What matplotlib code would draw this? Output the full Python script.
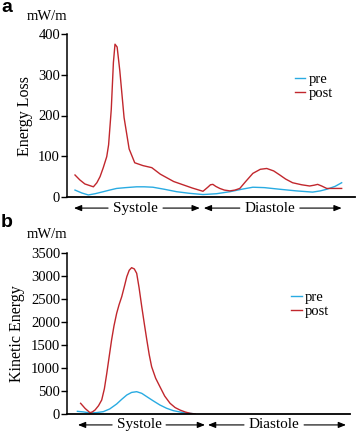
import matplotlib
matplotlib.use("Agg")
import matplotlib.pyplot as plt

plt.rcParams["font.family"] = ["Liberation Serif", "DejaVu Serif"]

RED = "#c1272d"
BLUE = "#29abe2"

# time in % of the cardiac cycle (systole ends near 48 %)
el_post_t = [0, 1.8, 3.7, 6.9, 8.2, 9.4, 10.6, 11.9, 12.6, 13.6, 14.4, 15.0, 15.8,
             16.8, 18.4, 20.3, 22.4, 25.5, 28.8, 32.0, 37.0, 44.0, 48.0, 49.8, 50.8,
             51.7, 52.8, 54.3, 56.0, 58.1, 60.0, 61.8, 64.0, 66.7, 69.5, 71.9, 74.5,
             76.8, 79.0, 81.6, 85.0, 88.0, 89.7, 91.0, 92.5, 94.4, 97.0, 100]
el_post = [54, 42, 32, 25, 35, 50, 72, 99, 128, 215, 330, 375, 368,
           310, 195, 118, 84, 77, 72, 56, 38, 22, 14, 24, 30,
           31, 26, 21, 17, 15, 17, 21, 38, 58, 68, 70, 64,
           54, 44, 35, 30, 27, 29, 31, 27, 21, 21, 21]

el_pre_t = [0, 2.5, 5.0, 7.5, 10.6, 13.0, 15.6, 19.0, 23.1, 26.0, 29.2, 33.5, 38.1,
            43.0, 48.0, 53.0, 58.1, 62.5, 66.7, 71.0, 76.8, 83.0, 89.1, 92.0, 94.4,
            97.5, 100]
el_pre = [17, 10, 5, 8, 13, 17, 21, 23, 25, 25, 24, 19, 13,
          9, 6, 8, 13, 19, 24, 23, 19, 15, 12, 15, 19,
          26, 35]

ke_post_t = [2.1, 3.8, 5.6, 6.5, 7.5, 8.8, 10.0, 11.0, 11.9, 12.8, 13.7, 14.6, 15.6,
             16.5, 17.5, 18.5, 19.4, 20.3, 21.2, 22.2, 23.1, 24.0, 25.0, 26.0, 26.9,
             27.8, 28.7, 30.2, 31.8, 33.6, 35.6, 37.5, 39.3, 41.2, 43.1, 45.0]
ke_post = [233, 120, 29, 45, 87, 180, 305, 550, 886, 1250, 1612, 1920, 2193,
           2380, 2555, 2780, 2991, 3130, 3187, 3160, 3064, 2750, 2337, 1950, 1612,
           1290, 1030, 780, 595, 390, 233, 140, 87, 45, 15, 0]

ke_pre_t = [0.9, 3.2, 5.6, 8.0, 10.6, 13.0, 15.6, 17.5, 19.4, 21.2, 23.1, 25.0,
            26.9, 29.2, 31.8, 34.3, 36.8, 40.5, 44.3]
ke_pre = [58, 45, 22, 30, 51, 110, 218, 320, 414, 470, 486, 450,
          377, 290, 196, 125, 73, 30, 7]

fig = plt.figure(figsize=(3.57, 4.33), dpi=100)
ax1 = fig.add_axes([67 / 357, 236 / 433, 288 / 357, 163 / 433])
ax2 = fig.add_axes([67 / 357, 19 / 433, 283 / 357, 160.7 / 433])

fs = 10.5


def style(ax, xmax, ymax, step, ylabel, unit_xy):
    ax.set_xlim(-3, xmax)
    ax.set_ylim(0, ymax)
    ax.set_yticks(range(0, ymax + 1, step))
    ax.set_xticks([])
    for s in ["top", "right"]:
        ax.spines[s].set_visible(False)
    ax.spines["left"].set_linewidth(1.1)
    ax.spines["bottom"].set_linewidth(1.3)
    ax.tick_params(axis="y", direction="out", length=4, width=1.0, pad=1, labelsize=fs)
    ax.set_ylabel(ylabel, fontsize=11.5, labelpad=4)
    ax.text(unit_xy[0], unit_xy[1], "mW/m", transform=ax.transAxes, fontsize=fs,
            ha="left", va="center")
    ax.legend(loc="center left", bbox_to_anchor=(0.79, 0.68), frameon=False,
              handlelength=0.75, handletextpad=0.2, labelspacing=0.05,
              borderpad=0, borderaxespad=0, fontsize=fs)


def phase_arrow(ax, x0, x1, xc, xt0, xt1, label, y=-0.068):
    ax.text(xc, y, label, transform=ax.get_xaxis_transform(), ha="center", va="center",
            fontsize=fs + 0.5, clip_on=False)
    ap = dict(arrowstyle="-|>,head_length=0.45,head_width=0.18", lw=0.8, color="black",
              shrinkA=0, shrinkB=0)
    for tip, tail in [(x0, xt0), (x1, xt1)]:
        ax.annotate("", xy=(tip, y), xytext=(tail, y), xycoords=("data", "axes fraction"),
                    textcoords=("data", "axes fraction"), arrowprops=ap,
                    annotation_clip=False)


ax1.plot(el_pre_t, el_pre, color=BLUE, lw=1.0, label="pre", solid_joinstyle="round")
ax1.plot(el_post_t, el_post, color=RED, lw=1.0, label="post", solid_joinstyle="round")
style(ax1, 105, 400, 100, "Energy Loss", (-0.139, 1.11))
phase_arrow(ax1, -0.4, 46.8, 22.7, 12.4, 33.0, "Systole")
phase_arrow(ax1, 48.3, 100, 73.0, 61.8, 84.3, "Diastole")

ax2.plot(ke_pre_t, ke_pre, color=BLUE, lw=1.0, label="pre", solid_joinstyle="round")
ax2.plot(ke_post_t, ke_post, color=RED, lw=1.0, label="post", solid_joinstyle="round")
style(ax2, 103, 3500, 500, "Kinetic Energy", (-0.141, 1.114))
phase_arrow(ax2, 1.1, 48.7, 24.0, 13.9, 34.1, "Systole")
phase_arrow(ax2, 49.8, 101.5, 74.5, 63.3, 85.8, "Diastole")

fig.text(1 / 357, 1 - 8 / 433, "a", fontsize=14, fontweight="bold",
         family="Liberation Sans", va="center", ha="left")
fig.text(1 / 357, 1 - 223 / 433, "b", fontsize=14, fontweight="bold",
         family="Liberation Sans", va="center", ha="left")

fig.savefig("out.png", dpi=100)
